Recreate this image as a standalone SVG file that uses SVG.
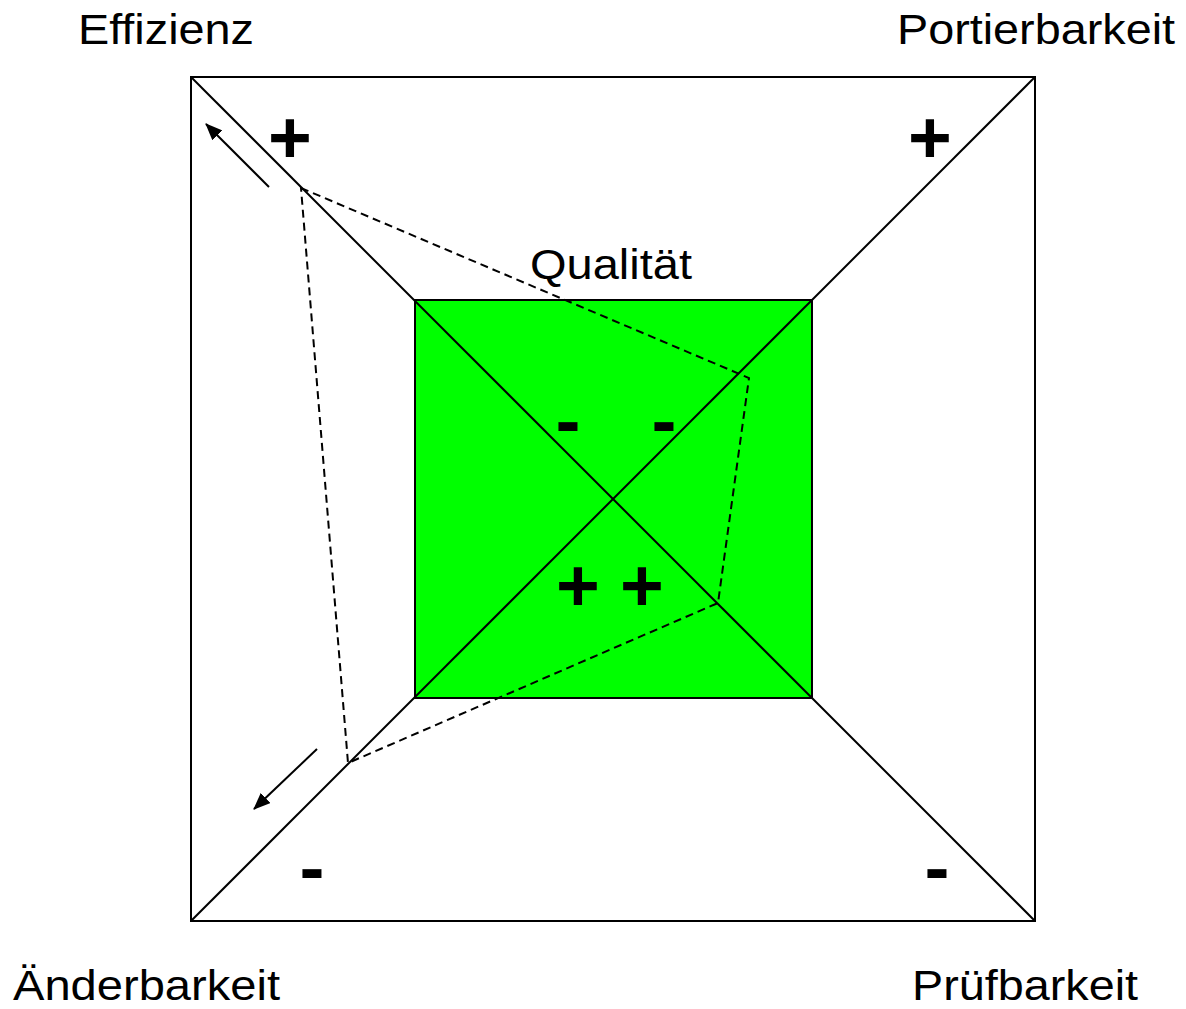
<svg xmlns="http://www.w3.org/2000/svg" width="1186" height="1009" viewBox="0 0 1186 1009">
<style>
.ln{stroke:#000;stroke-width:2;fill:none}
.dash{stroke:#000;stroke-width:2;fill:none;stroke-dasharray:8,5}
.lbl{font-family:"Liberation Sans",Arial,sans-serif;font-size:42px;fill:#000}
.sym{font-family:"Liberation Sans",Arial,sans-serif;font-size:75px;font-weight:bold;fill:#000;text-anchor:middle}
</style>
<defs>
<marker id="ah" markerUnits="userSpaceOnUse" markerWidth="18" markerHeight="14" refX="16" refY="7" orient="auto">
<path d="M0,0 L17,7 L0,14 Z" fill="#000"/>
</marker>
</defs>
<rect width="1186" height="1009" fill="#fff"/>
<g id="outer">
<rect class="ln" x="191" y="77" width="844" height="844"/>
</g>
<g id="inner">
<rect x="415" y="300" width="397" height="398" fill="#00ff00" stroke="#000" stroke-width="2"/>
</g>
<g id="connectors">
<line class="ln" x1="191" y1="77" x2="1035" y2="921"/>
<line class="ln" x1="1035" y1="77" x2="191" y2="921"/>
<polygon class="dash" points="301,188 749,378 718,603 348,763"/>
<line class="ln" x1="269" y1="187" x2="206" y2="124" marker-end="url(#ah)"/>
<line class="ln" x1="317" y1="749" x2="254" y2="809" marker-end="url(#ah)"/>
</g>
<g id="labels">
<text class="lbl" x="78" y="44" textLength="176" lengthAdjust="spacingAndGlyphs">Effizienz</text>
<text class="lbl" x="897" y="44" textLength="278" lengthAdjust="spacingAndGlyphs">Portierbarkeit</text>
<text class="lbl" x="13" y="1000" textLength="267" lengthAdjust="spacingAndGlyphs">Änderbarkeit</text>
<text class="lbl" x="912" y="1000" textLength="226" lengthAdjust="spacingAndGlyphs">Prüfbarkeit</text>
<text class="lbl" x="530" y="279" textLength="162" lengthAdjust="spacingAndGlyphs">Qualität</text>
</g>
<g id="signs">
<text class="sym" x="290" y="163">+</text>
<text class="sym" x="930" y="163">+</text>
<text class="sym" x="312" y="893">-</text>
<text class="sym" x="937" y="893">-</text>
<text class="sym" x="568" y="446">-</text>
<text class="sym" x="664" y="446">-</text>
<text class="sym" x="578" y="611">+</text>
<text class="sym" x="642" y="611">+</text>
</g>
</svg>
